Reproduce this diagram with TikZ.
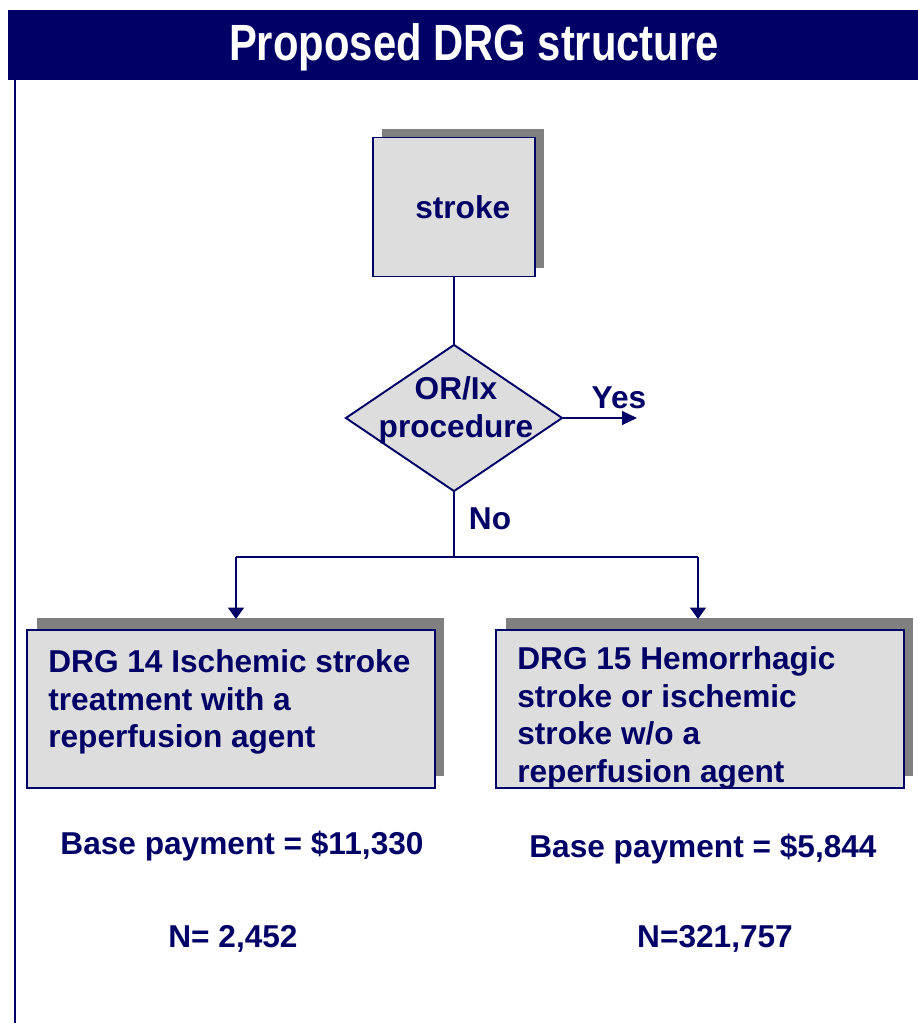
\documentclass[tikz,border=0pt]{standalone}
\usepackage{fontspec}
\setmainfont{Liberation Sans}
\usetikzlibrary{shapes.geometric,shadows,arrows.meta}
\definecolor{navy}{RGB}{0,0,102}
\definecolor{boxgray}{RGB}{221,221,221}
\definecolor{shadowgray}{RGB}{128,128,128}
\tikzset{
	box/.style={draw=navy, line width=1.1pt, fill=boxgray, inner sep=0pt},
	drgbox/.style={box, minimum width=8.16cm, minimum height=3.16cm,
		drop shadow={fill=shadowgray, opacity=1, shadow xshift=5.4pt, shadow yshift=6.8pt}},
	plain/.style={text=navy, font=\fontsize{18}{21.5}\selectfont\bfseries, inner sep=0pt},
	link/.style={draw=navy, line width=1.1pt},
	down/.style={link, -{Triangle[length=6.5pt, width=9pt]}, shorten >=5.7pt}}
\begin{document}
\begin{tikzpicture}[x=0.02cm, y=-0.02cm]
\useasboundingbox (0,0) rectangle (918,1023);
\fill[navy] (8,10) rectangle (918,80); % title bar
\node[text=white, inner sep=0pt, font=\fontsize{29}{34}\selectfont\bfseries] (title) at (474,47) {\scalebox{0.82}[1]{Proposed DRG structure}};
\draw[navy, line width=0.7pt] (15,80) coordinate (side) -- (15,1023); % left rule
\node[box, plain, minimum width=3.24cm, minimum height=2.78cm,
	drop shadow={fill=shadowgray, opacity=1, shadow xshift=5.1pt, shadow yshift=5.1pt}] (stroke) at (454,207) {\hspace{10pt}stroke};
\node[box, diamond, minimum width=4.34cm, minimum height=2.94cm] (ix) at (454,418) {};
\node[plain, align=center] (ixtext) at (456,410) {OR/Ix\\procedure};
\draw[link] (stroke.south) -- (ix.north);
\coordinate (yesend) at (637,418);
\draw[link, -{Triangle[length=8.5pt, width=7.8pt]}] (ix.east) -- (yesend);
\node[plain] (yes) at (619,398) {Yes};
\node[plain] (no) at (490,519) {No};
% the two DRGs
\node[drgbox] (drg14) at (231,709) {};
\node[drgbox] (drg15) at (700,709) {};
\node[plain, align=left, anchor=north west] (drg14text) at (48,649) {DRG 14 Ischemic stroke\\treatment with a\\reperfusion agent};
\node[plain, align=left, anchor=north west] (drg15text) at (517,646) {DRG 15 Hemorrhagic\\stroke or ischemic\\stroke w/o a\\reperfusion agent};
\coordinate (split) at (454,557);
\coordinate (lsplit) at (236,557);
\coordinate (rsplit) at (698,557);
\draw[link] (ix.south) -- (split);
\draw[link] (lsplit) -- (rsplit);
\draw[down] (lsplit) -- (lsplit |- drg14.north);
\draw[down] (rsplit) -- (rsplit |- drg15.north);
% payment and counts
\node[plain] (pay14) at (242,846) {Base payment = \$11,330};
\node[plain] (pay15) at (703,849) {Base payment = \$5,844};
\node[plain] (n14) at (233,939) {N= 2,452};
\node[plain] (n15) at (715,939) {N=321,757};
\end{tikzpicture}
\end{document}
